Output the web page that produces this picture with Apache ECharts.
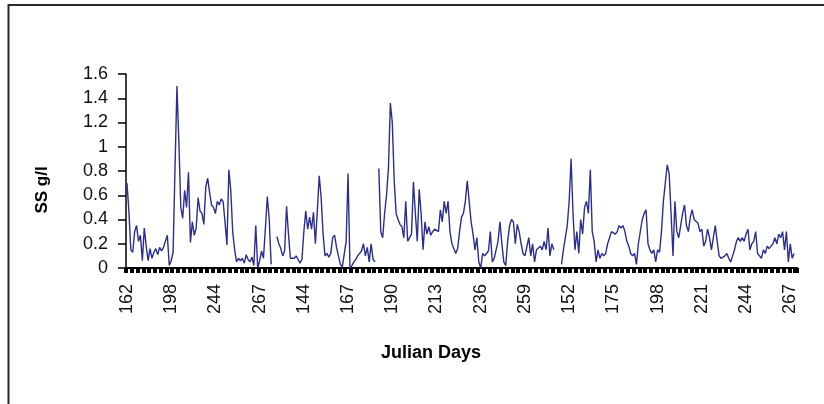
<!DOCTYPE html>
<html>
<head>
<meta charset="utf-8">
<title>SS g/l by Julian day</title>
<script src="https://cdn.jsdelivr.net/npm/echarts/dist/echarts.min.js"></script>
<style>
  html, body { margin: 0; padding: 0; background: #fff; }
  #chart { width: 824px; height: 404px; }
</style>
</head>
<body>
<div id="chart"></div>
<script>
// Julian day of each sample, season by season
const daysSeason1 = [
  162,164,165,167,168,170,171,173,174,176,178,179,181,182,184,186,187,189,190,192,194,196,197,
  198,200,202,204,206,208,210,212,214,216,218,220,222,224,226,228,230,232,234,236,238,240,242,
  244,245,246,247,248,249,250,251,252,253,254,255,256,257,258,259,260,261,262,263,264,265,266,267,
  268,269,270,271,272,273
];
const season2Range = [128, 277];
const season3Range = [148, 270];

// Suspended sediment (g/l); null = no sample
const ssSeason1 = [
  0.70,0.47,0.15,0.13,0.30,0.35,0.22,0.27,0.06,0.33,0.18,0.06,0.16,0.08,0.13,0.16,0.11,0.17,0.14,0.17,
  0.22,0.27,0.02,0.06,0.13,0.83,1.50,1.04,0.50,0.41,0.64,0.50,0.79,0.21,0.38,0.27,0.33,0.58,0.47,0.45,
  0.36,0.67,0.74,0.62,0.52,0.50,0.45,0.55,0.52,0.57,0.55,0.38,0.19,0.81,0.64,0.30,0.15,0.05,0.08,0.06,
  0.08,0.04,0.11,0.07,0.05,0.09,0.02,0.35,0.00,0.06,0.14,0.08,0.33,0.59,0.40,0.03
];
const ssSeason2 = [
  null,null,0.26,0.20,0.16,0.10,0.14,0.51,0.28,0.08,0.08,0.08,0.10,0.07,0.04,0.07,0.30,0.47,0.32,0.42,
  0.32,0.46,0.20,0.47,0.76,0.58,0.28,0.10,0.12,0.09,0.12,0.25,0.27,0.17,0.10,0.03,0.01,0.02,0.22,0.78,
  0.00,0.02,0.05,0.07,0.10,0.10,0.14,0.20,0.10,0.17,0.05,0.20,0.07,0.05,null,0.82,0.30,0.25,0.45,0.60,
  0.82,1.36,1.20,0.72,0.45,0.40,0.36,0.34,0.25,0.55,0.22,0.25,0.28,0.71,0.45,0.22,0.65,0.45,0.15,0.38,
  0.28,0.34,0.27,0.30,0.32,0.33,0.30,0.48,0.38,0.55,0.45,0.55,0.30,0.20,0.16,0.12,0.16,0.30,0.42,0.45,
  0.55,0.72,0.55,0.38,0.28,0.15,0.25,0.05,0.00,0.12,0.10,0.12,0.14,0.30,0.05,0.08,0.08,0.22,0.38,0.20,
  0.05,0.02,0.22,0.35,0.40,0.38,0.20,0.36,0.30,0.20,0.12,0.10,0.10,0.25,0.10,0.20,0.05,0.15,0.15,0.18,
  0.15,0.22,0.15,0.33,0.10,0.20,0.15,null,null,null
];
const ssSeason3 = [
  0.03,0.15,0.25,0.35,0.55,0.90,0.45,0.15,0.30,0.12,0.40,0.28,0.50,0.55,0.45,0.81,0.30,0.22,0.05,0.15,
  0.08,0.12,0.10,0.12,0.20,0.25,0.30,0.30,0.28,0.30,0.35,0.33,0.35,0.30,0.22,0.18,0.12,0.10,0.12,0.03,
  0.20,0.20,0.40,0.45,0.48,0.20,0.15,0.12,0.15,0.05,0.15,0.13,0.30,0.55,0.70,0.85,0.78,0.45,0.10,0.55,
  0.30,0.25,0.35,0.45,0.52,0.35,0.30,0.42,0.48,0.40,0.40,0.37,0.30,0.32,0.18,0.22,0.32,0.25,0.15,0.25,
  0.35,0.22,0.10,0.08,0.08,0.10,0.12,0.08,0.05,0.10,0.15,0.22,0.25,0.22,0.25,0.22,0.28,0.32,0.15,0.20,
  0.22,0.30,0.12,0.10,0.08,0.15,0.12,0.18,0.16,0.18,0.20,0.25,0.20,0.28,0.25,0.30,0.15,0.30,0.05,0.20,
  0.08,0.12,null
];

const yTicks = { min: 0, max: 1.6, step: 0.2 };

function dayRange(r) {
  const out = [];
  for (let d = r[0]; d <= r[1]; d++) out.push(d);
  return out;
}

const julianDays = daysSeason1.concat(dayRange(season2Range), dayRange(season3Range)).map(String);
const ssValues = ssSeason1.concat(ssSeason2, ssSeason3);

const font = 'Liberation Sans, Arial, sans-serif';
const chart = echarts.init(document.getElementById('chart'), null, { renderer: 'canvas' });

chart.setOption({
  animation: false,
  backgroundColor: '#ffffff',
  grid: { left: 126, right: 27, top: 74, bottom: 136, containLabel: false },
  xAxis: {
    type: 'category',
    data: julianDays,
    boundaryGap: true,
    axisLine: { show: true, lineStyle: { color: '#000', width: 2 } },
    axisTick: { show: true, interval: 2, length: 5, lineStyle: { color: '#000', width: 4 } },
    axisLabel: {
      interval: 22, rotate: 90, margin: 16,
      fontFamily: font, fontSize: 18, color: '#111'
    },
    splitLine: { show: false }
  },
  yAxis: {
    type: 'value',
    min: yTicks.min, max: yTicks.max, interval: yTicks.step,
    axisLine: { show: true, lineStyle: { color: '#000', width: 1.5 } },
    axisTick: { show: true, length: 8, lineStyle: { color: '#000', width: 1.5 } },
    axisLabel: { margin: 18, fontFamily: font, fontSize: 18, color: '#111' },
    splitLine: { show: false }
  },
  series: [{
    type: 'line',
    data: ssValues,
    showSymbol: false,
    connectNulls: false,
    lineStyle: { color: '#2a2f8f', width: 1.4 },
    itemStyle: { color: '#2a2f8f' }
  }],
  graphic: [
    {
      type: 'rect', silent: true,
      shape: { x: 8.5, y: 5, width: 900, height: 500 },
      style: { fill: 'none', stroke: '#2a2a2a', lineWidth: 2 }
    },
    {
      type: 'text', silent: true,
      x: 42, y: 190, rotation: Math.PI / 2,
      style: {
        text: 'SS g/l', fontFamily: font, fontSize: 17, fontWeight: 'bold',
        fill: '#000', align: 'center', verticalAlign: 'middle'
      }
    },
    {
      type: 'text', silent: true,
      x: 431, y: 353,
      style: {
        text: 'Julian Days', fontFamily: font, fontSize: 18, fontWeight: 'bold',
        fill: '#000', align: 'center', verticalAlign: 'middle'
      }
    }
  ]
});
</script>
</body>
</html>
